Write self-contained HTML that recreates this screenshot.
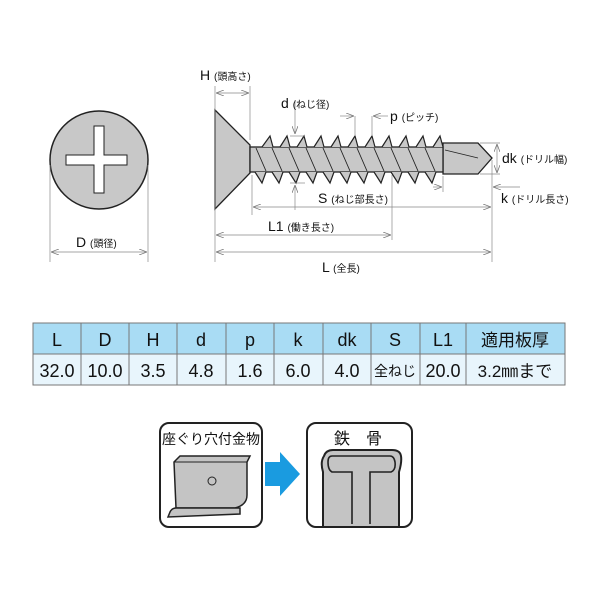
<!DOCTYPE html><html><head><meta charset="utf-8"><style>
body{margin:0;background:#fff;}
svg{display:block;font-family:"Liberation Sans","Noto Sans CJK JP",sans-serif;}
</style></head><body>
<svg width="600" height="600" viewBox="0 0 600 600">
<defs>
<marker id="a" markerWidth="8" markerHeight="6" refX="8" refY="3" orient="auto-start-reverse" markerUnits="userSpaceOnUse"><path d="M0,0L8,3L0,6" fill="none" stroke="#777" stroke-width="0.8"/></marker>
</defs>
<circle cx="99" cy="160" r="49" fill="#c8c8c8" stroke="#222" stroke-width="1.5"/>
<path d="M94,126h10v29h23v10h-23v28h-10v-28h-28v-10h28z" fill="#fff" stroke="#222" stroke-width="1"/>
<g stroke="#888" stroke-width="0.7" fill="none">
<line x1="50" y1="165" x2="50" y2="262"/><line x1="148" y1="165" x2="148" y2="262"/>
<line x1="51" y1="252" x2="147" y2="252" marker-start="url(#a)" marker-end="url(#a)"/>
</g>
<text x="76" y="247" font-size="14" fill="#111">D <tspan font-size="10">(頭径)</tspan></text>

<g stroke="#222" stroke-width="1.3" fill="#c8c8c8">
<path d="M215,110L250,145L250,173L215,209Z"/>
<path d="M443,143L478,143L492,158L478,174L443,174Z"/>
<rect x="250" y="147" width="193" height="25"/>
</g>
<g stroke="#222" stroke-width="1.2" fill="#c8c8c8">
<path d="M262,147 L270,136 L273,147 M280,147 L287,136 L290,147 M297,147 L304,136 L307,147 M314,147 L321,136 L324,147 M331,147 L338,136 L341,147 M348,147 L355,136 L358,147 M365,147 L372,136 L375,147 M382,147 L389,136 L392,147 M399,147 L406,136 L409,147 M416,147 L423,136 L426,147 M433,147 L440,136 L443,147"/>
<path d="M255,172 L262,183 L266,172 M272,172 L279,183 L283,172 M289,172 L296,183 L300,172 M306,172 L313,183 L317,172 M323,172 L330,183 L334,172 M340,172 L347,183 L351,172 M357,172 L364,183 L368,172 M374,172 L381,183 L385,172 M391,172 L398,183 L402,172 M408,172 L415,183 L419,172 M425,172 L432,183 L436,172"/>
<path d="M256,148L266,171 M272,148L282,171 M289,148L299,171 M306,148L316,171 M323,148L333,171 M340,148L350,171 M357,148L367,171 M374,148L384,171 M391,148L401,171 M408,148L418,171 M425,148L435,171" fill="none" stroke-width="0.9"/>
<path d="M445,150L478,158" fill="none" stroke-width="0.9"/>
</g>
<g stroke="#888" stroke-width="0.7" fill="none">
<line x1="215" y1="86" x2="215" y2="262"/><line x1="250" y1="86" x2="250" y2="140"/>
<line x1="216" y1="93" x2="249" y2="93" marker-start="url(#a)" marker-end="url(#a)"/>
<line x1="295" y1="100" x2="295" y2="134" marker-end="url(#a)"/>
<line x1="295" y1="210" x2="295" y2="185" marker-end="url(#a)"/>
<line x1="290" y1="136" x2="305" y2="136"/><line x1="290" y1="183" x2="305" y2="183"/>
<line x1="355" y1="116" x2="355" y2="136"/><line x1="372" y1="116" x2="372" y2="136"/>
<line x1="340" y1="116" x2="354" y2="116" marker-end="url(#a)"/>
<line x1="388" y1="116" x2="373" y2="116" marker-end="url(#a)"/>
<line x1="252" y1="175" x2="252" y2="215"/>
<line x1="253" y1="207" x2="491" y2="207" marker-start="url(#a)" marker-end="url(#a)"/>
<line x1="392" y1="175" x2="392" y2="240"/>
<line x1="216" y1="235" x2="391" y2="235" marker-start="url(#a)" marker-end="url(#a)"/>
<line x1="216" y1="252" x2="491" y2="252" marker-start="url(#a)" marker-end="url(#a)"/>
<line x1="492" y1="160" x2="492" y2="262"/><line x1="443" y1="176" x2="443" y2="192"/>
<line x1="433" y1="187" x2="442" y2="187" marker-end="url(#a)"/>
<line x1="520" y1="187" x2="493" y2="187" marker-end="url(#a)"/>
<line x1="480" y1="143" x2="500" y2="143"/><line x1="480" y1="174" x2="500" y2="174"/>
<line x1="497" y1="144" x2="497" y2="173" marker-start="url(#a)" marker-end="url(#a)"/>
</g>
<g fill="#111" font-size="14">
<text x="200" y="80">H <tspan font-size="10">(頭高さ)</tspan></text>
<text x="281" y="108">d <tspan font-size="10">(ねじ径)</tspan></text>
<text x="390" y="121">p <tspan font-size="10">(ピッチ)</tspan></text>
<text x="502" y="163">dk <tspan font-size="10">(ドリル幅)</tspan></text>
<text x="501" y="203">k <tspan font-size="10">(ドリル長さ)</tspan></text>
<text x="318" y="203">S <tspan font-size="10">(ねじ部長さ)</tspan></text>
<text x="268" y="231">L1 <tspan font-size="10">(働き長さ)</tspan></text>
<text x="322" y="272">L <tspan font-size="10">(全長)</tspan></text>
</g>

<rect x="33" y="323" width="532" height="31" fill="#a9dcf4"/>
<rect x="33" y="354" width="532" height="31" fill="#e8f5fc"/>
<g stroke="#777" stroke-width="1" fill="none">
<rect x="33" y="323" width="532" height="62"/>
<line x1="33" y1="354" x2="565" y2="354"/>
<path d="M81,323v62M129,323v62M177,323v62M226,323v62M274,323v62M323,323v62M371,323v62M420,323v62M466,323v62"/>
</g>
<g fill="#111" font-size="18" text-anchor="middle">
<text x="57" y="346">L</text><text x="105" y="346">D</text><text x="153" y="346">H</text><text x="201" y="346">d</text><text x="250" y="346">p</text><text x="298" y="346">k</text><text x="347" y="346">dk</text><text x="395" y="346">S</text><text x="443" y="346">L1</text><text x="515" y="346" font-size="17">適用板厚</text>
<text x="57" y="377">32.0</text><text x="105" y="377">10.0</text><text x="153" y="377">3.5</text><text x="201" y="377">4.8</text><text x="250" y="377">1.6</text><text x="298" y="377">6.0</text><text x="347" y="377">4.0</text><text x="395" y="376" font-size="14">全ねじ</text><text x="443" y="377">20.0</text><text x="515" y="377" font-size="17">3.2㎜まで</text>
</g>

<rect x="160" y="423" width="102" height="104" rx="9" fill="#fff" stroke="#222" stroke-width="2"/>
<text x="211" y="444" font-size="14" text-anchor="middle" fill="#111">座ぐり穴付金物</text>
<path d="M174,462L180,456L250,456L247,462L247,495Q247,505 235,508L176,508Z" fill="#c4c4c4" stroke="#222" stroke-width="1.5"/>
<path d="M174,462L247,462" fill="none" stroke="#222" stroke-width="1"/>
<path d="M176,508Q172,508 170,512L168,517L240,514L240,508Z" fill="#c4c4c4" stroke="#222" stroke-width="1.5"/>
<circle cx="212" cy="481" r="4" fill="none" stroke="#222"/>
<polygon points="265,462 280,462 280,452 300,474 280,496 280,486 265,486" fill="#1a9be0"/>
<rect x="307" y="423" width="105" height="104" rx="9" fill="#fff" stroke="#222" stroke-width="2"/>
<text x="358" y="444" font-size="16" text-anchor="middle" fill="#111">鉄　骨</text>
<path d="M323,526L323,472Q320,462 324,456Q326,450 333,450L392,450Q400,450 401,456Q402,462 399,472L399,526Z" fill="#c4c4c4" stroke="none"/>
<path d="M323,526L323,472Q320,462 324,456Q326,450 333,450L392,450Q400,450 401,456Q402,462 399,472L399,526" fill="none" stroke="#222" stroke-width="2"/>
<path d="M370,524L370,472L391,472Q396,470 395,462Q394,456 390,456L332,456Q328,456 328,462Q328,470 332,472L352,472L352,524" fill="none" stroke="#222" stroke-width="1.6"/>
</svg>
</body></html>
